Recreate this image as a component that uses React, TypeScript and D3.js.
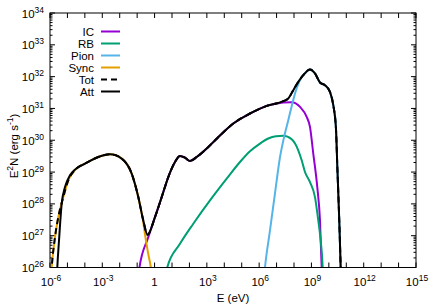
import React from "react";
import * as d3 from "d3";

// Series stored as log10(E [eV]) and log10(E^2 N [erg s^-1])
const icLogE = [-0.92, -0.877, -0.36, 0.024, 0.409, 0.787, 1.172, 1.458, 1.745, 2.032, 2.417, 2.99, 3.564, 4.516, 5.475, 6.433, 7.385, 7.867, 8.345, 8.727, 8.917, 9.106, 9.336, 9.49, 9.588, 9.6];
const icLogY = [25.8, 25.97, 26.954, 27.584, 28.214, 28.844, 29.317, 29.506, 29.455, 29.348, 29.474, 29.739, 30.047, 30.526, 30.841, 31.08, 31.187, 31.197, 31.049, 30.734, 30.419, 29.581, 28.529, 27.48, 26.01, 25.8];

const rbLogE = [0.7, 0.73, 1.458, 2.221, 3.18, 4.138, 4.901, 5.475, 6.048, 6.524, 6.966, 7.385, 7.867, 8.245, 8.441, 8.63, 8.917, 9.204, 9.393, 9.531, 9.645, 9.66];
const rbLogY = [25.8, 26.01, 26.746, 27.376, 28.11, 28.794, 29.317, 29.654, 29.896, 30.054, 30.126, 30.142, 30.031, 29.685, 29.37, 29.002, 28.687, 28.214, 27.48, 26.85, 26.01, 25.8];

const pionLogE = [6.3, 6.335, 6.622, 6.909, 7.196, 7.482, 7.672, 7.867, 8.154, 8.441, 8.532, 8.917, 9.204, 9.49, 9.777, 10.064, 10.254, 10.408, 10.483, 10.597, 10.678, 10.7];
const pionLogY = [25.8, 26.0, 27.165, 28.331, 29.465, 30.22, 30.63, 31.071, 31.638, 31.984, 32.047, 32.227, 32.101, 31.817, 31.732, 31.521, 31.102, 30.369, 29.213, 27.48, 26.0, 25.5];

const syncLogE = [-5.93, -5.902, -5.713, -5.524, -5.237, -4.95, -4.663, -4.376, -3.992, -3.229, -2.558, -1.886, -1.313, -0.934, -0.779, -0.647, -0.55, -0.378, -0.205, -0.148];
const syncLogY = [25.8, 26.01, 26.954, 27.584, 28.214, 28.74, 29.002, 29.159, 29.266, 29.474, 29.559, 29.424, 28.951, 28.214, 27.795, 27.417, 27.039, 26.472, 25.969, 25.72];

const totLogE = [-5.93, -5.902, -5.713, -5.524, -5.237, -4.95, -4.663, -4.376, -3.992, -3.229, -2.558, -1.886, -1.313, -0.934, -0.647, -0.406, 0.024, 0.409, 0.787, 1.172, 1.458, 1.745, 2.032, 2.417, 2.99, 3.564, 4.516, 5.475, 6.433, 7.385, 7.672, 7.959, 8.245, 8.532, 8.917, 9.204, 9.49, 9.777, 10.064, 10.254, 10.408, 10.483, 10.597, 10.678, 10.7];
const totLogY = [25.8, 26.01, 26.954, 27.584, 28.214, 28.74, 29.002, 29.159, 29.266, 29.474, 29.559, 29.424, 28.951, 28.214, 27.48, 27.03, 27.584, 28.214, 28.844, 29.317, 29.506, 29.455, 29.348, 29.474, 29.739, 30.047, 30.526, 30.841, 31.08, 31.228, 31.313, 31.575, 31.836, 32.047, 32.227, 32.101, 31.817, 31.732, 31.521, 31.102, 30.369, 29.213, 27.48, 26.0, 25.5];

const attLogE = [-5.62, -5.581, -5.483, -5.329, -5.139, -4.853, -4.566, -3.992, -3.229, -2.558, -1.886, -1.313, -0.934, -0.647, -0.406, 0.024, 0.409, 0.787, 1.172, 1.458, 1.745, 2.032, 2.417, 2.99, 3.564, 4.516, 5.475, 6.433, 7.385, 7.672, 7.959, 8.245, 8.532, 8.917, 9.204, 9.49, 9.777, 10.064, 10.254, 10.408, 10.483, 10.597, 10.678, 10.7];
const attLogY = [25.5, 26.0, 26.85, 28.006, 28.529, 28.898, 29.077, 29.266, 29.474, 29.559, 29.424, 28.951, 28.214, 27.48, 27.03, 27.584, 28.214, 28.844, 29.317, 29.506, 29.455, 29.348, 29.474, 29.739, 30.047, 30.526, 30.841, 31.08, 31.228, 31.313, 31.575, 31.836, 32.047, 32.227, 32.101, 31.817, 31.732, 31.521, 31.102, 30.369, 29.213, 27.48, 26.0, 25.5];

const seriesNames = ["IC", "RB", "Pion", "Sync", "Tot", "Att"];
const seriesColors = ["#9400d3", "#009e73", "#56b4e9", "#e69f00", "#000000", "#000000"];
const seriesDash = [null, null, null, null, "6,4", null];

const xTickExps = [-6, -3, 0, 3, 6, 9, 12, 15];
const yTickExps = [26, 27, 28, 29, 30, 31, 32, 33, 34];

const W = 436, H = 305;
const L = 50, R = 416, T = 13, B = 267.5;
const FONT = "'Liberation Sans', Arial, Helvetica, sans-serif";
const FS = 11.5;
const SFS = 8.5;

export default function App() {
  const x = d3.scaleLog().domain([1e-6, 1e15]).range([L, R]);
  const y = d3.scaleLog().domain([1e26, 1e34]).range([B, T]);

  const series = [
    [icLogE, icLogY], [rbLogE, rbLogY], [pionLogE, pionLogY],
    [syncLogE, syncLogY], [totLogE, totLogY], [attLogE, attLogY],
  ].map(([e, v]) => e.map((le, i) => [Math.pow(10, le), Math.pow(10, v[i])] as [number, number]));

  const line = d3.line<[number, number]>()
    .x(d => x(d[0]))
    .y(d => y(d[1]))
    .curve(d3.curveMonotoneX);

  const xTicks: number[] = [];
  for (let e = -6; e <= 15; e++) xTicks.push(Math.pow(10, e));
  const yMinor: number[] = [];
  for (let e = 26; e < 34; e++) for (let m = 2; m <= 9; m++) yMinor.push(m * Math.pow(10, e));

  return (
    <svg width={W} height={H} style={{ position: "absolute", left: 0, top: 0, background: "#fff" }} fontFamily={FONT}>
      <defs>
        <clipPath id="plotclip">
          <rect x={L} y={T} width={R - L} height={B - T} />
        </clipPath>
      </defs>
      <rect x={0} y={0} width={W} height={H} fill="#fff" />
      {/* ticks */}
      <g stroke="#000" strokeWidth={1}>
        {xTicks.map((t, i) => (
          <g key={"xt" + i}>
            <line x1={x(t)} x2={x(t)} y1={B} y2={B - 5} />
            <line x1={x(t)} x2={x(t)} y1={T} y2={T + 5} />
          </g>
        ))}
        {yTickExps.map((e, i) => (
          <g key={"yt" + i}>
            <line x1={L} x2={L + 5} y1={y(Math.pow(10, e))} y2={y(Math.pow(10, e))} />
            <line x1={R} x2={R - 5} y1={y(Math.pow(10, e))} y2={y(Math.pow(10, e))} />
          </g>
        ))}
        {yMinor.map((t, i) => (
          <g key={"ym" + i}>
            <line x1={L} x2={L + 2.5} y1={y(t)} y2={y(t)} />
            <line x1={R} x2={R - 2.5} y1={y(t)} y2={y(t)} />
          </g>
        ))}
      </g>
      {/* curves */}
      <g clipPath="url(#plotclip)" fill="none">
        {series.map((pts, i) => (
          <path key={"s" + i} d={line(pts) || ""} stroke={seriesColors[i]} strokeWidth={2}
            strokeDasharray={seriesDash[i] || undefined} strokeLinejoin="round" />
        ))}
      </g>
      {/* frame */}
      <rect x={L} y={T} width={R - L} height={B - T} fill="none" stroke="#000" strokeWidth={1} />
      {/* x tick labels */}
      {xTickExps.map((e, i) => (
        e === 0 ? (
          <text key={"xl" + i} x={x(1)} y={286} fontSize={FS} textAnchor="middle">1</text>
        ) : (
          <text key={"xl" + i} x={x(Math.pow(10, e)) + 1} y={286} fontSize={FS} textAnchor="middle">
            10<tspan fontSize={SFS} dy={-5}>{e}</tspan>
          </text>
        )
      ))}
      {/* y tick labels */}
      {yTickExps.map((e, i) => (
        <text key={"yl" + i} x={44} y={y(Math.pow(10, e)) + 4.5} fontSize={FS} textAnchor="end">
          10<tspan fontSize={SFS} dy={-5}>{e}</tspan>
        </text>
      ))}
      {/* axis titles */}
      <text x={233} y={302} fontSize={FS} textAnchor="middle">E (eV)</text>
      <text transform="translate(18,146) rotate(-90)" fontSize={FS} textAnchor="middle">
        E<tspan fontSize={SFS} dy={-5}>2</tspan><tspan dy={5}>N (erg s</tspan><tspan fontSize={SFS} dy={-5}>-1</tspan><tspan dy={5}>)</tspan>
      </text>
      {/* legend */}
      {seriesNames.map((n, i) => (
        <g key={"lg" + i}>
          <text x={94} y={31.5 + 12 * i + 4} fontSize={FS} textAnchor="end">{n}</text>
          <line x1={101} x2={120} y1={31.5 + 12 * i} y2={31.5 + 12 * i} stroke={seriesColors[i]} strokeWidth={2}
            strokeDasharray={seriesDash[i] || undefined} />
        </g>
      ))}
    </svg>
  );
}
